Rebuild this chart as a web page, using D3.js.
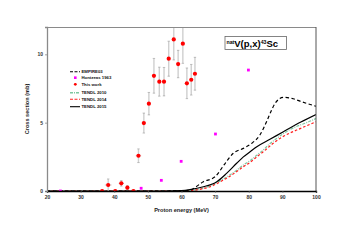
<!DOCTYPE html>
<html><head><meta charset="utf-8">
<script src="https://cdn.jsdelivr.net/npm/d3@7"></script>
<style>body{margin:0;background:#fff}svg{display:block}text{font-family:"Liberation Sans",Arial,sans-serif;font-weight:bold}</style>
</head><body><div id="c"></div>
<script>
// This work (energy MeV, cross section mb, y error, x error)
const thisE   = [36.4,38.2,40.3,42.1,43.9,45.7,47.2,48.8,50.3,51.8,53.4,54.8,56.2,57.7,59.0,60.4,61.6,62.9,64.0];
const thisS   = [0.0,0.44,0.0,0.56,0.24,0.0,2.58,4.97,6.39,8.43,8.0,8.0,9.68,11.09,9.29,10.78,7.88,8.14,8.58];
const thisErr = [0.05,0.44,0.05,0.2,0.15,0.05,0.5,0.73,0.82,1.27,1.06,1.04,1.28,1.5,1.0,1.44,1.12,1.12,1.2];
const thisXErr= [0.7,1.0,0.7,0.8,0.7,0.6,0.8,0.6,0.5,0.4,0.4,0.4,0.4,0.4,0.4,0.4,0.4,0.4,0.4];
// Hontzeas 1963
const hontE = [24.0,48.0,54.0,59.9,70.1,79.9];
const hontS = [0.0,0.2,0.78,2.17,4.17,8.85];
// EMPIRE03
const empE = [20,40,55,60,62.5,66.5,70,73,75.4,78.4,80.9,83.3,85.3,86.8,87.8,90.3,92.8,95.7,100];
const empS = [0,0,0,0.02,0.07,0.68,1.05,2.03,2.76,3.12,3.49,4.1,5.07,5.93,6.4,6.85,6.78,6.53,6.2];
// TENDL 2010
const t10E = [20,40,55,60,62.5,66,68.5,71,73.4,76,78.4,80.4,82.4,84.3,86,88.3,90.3,92.3,95,97.2,100];
const t10S = [0,0,0,0,0.02,0.18,0.38,0.68,1.02,1.45,1.9,2.22,2.62,3.0,3.4,3.85,4.2,4.5,4.8,5.0,5.3];
// TENDL 2014
const t14E = [20,40,55,60,62.5,66,68.5,71,73.4,76,78.4,80.4,82.4,84.3,87.3,89.3,92.3,94.3,97,100];
const t14S = [0,0,0,0,0.02,0.15,0.31,0.6,0.93,1.35,1.78,2.1,2.5,2.87,3.5,3.85,4.25,4.46,4.75,5.07];
// TENDL 2015
const t15E = [20,40,55,60,62.5,66.5,70.5,73.4,76.4,78.4,80.4,82.4,86.3,90.3,95.5,100];
const t15S = [0,0,0,0.03,0.1,0.31,0.68,1.29,2.03,2.5,2.87,3.24,3.78,4.34,5.05,5.6];
const xTicks = [20,30,40,50,60,70,80,90,100];
const yTicks = [0,5,10];
const legendLabels = ["EMPIRE03","Hontzeas 1963","This work","TENDL 2010","TENDL 2014","TENDL 2015"];

const W=351,H=248;
const svg=d3.select("#c").append("svg").attr("width",W).attr("height",H);
svg.append("rect").attr("width",W).attr("height",H).attr("fill","#fff");
const x=d3.scaleLinear().domain([20,100]).range([47,316]);
const y=d3.scaleLinear().domain([0,12]).range([191,27]);

svg.append("clipPath").attr("id","clp").append("rect").attr("x",47).attr("y",27).attr("width",269).attr("height",164);
const g=svg.append("g").attr("clip-path","url(#clp)");

const line=d3.line().x(d=>x(d[0])).y(d=>y(d[1])).curve(d3.curveMonotoneX);
function drawLine(E,S,color,dash,width){
  g.append("path").datum(E.map((e,i)=>[e,S[i]])).attr("d",line).attr("fill","none")
   .attr("stroke",color).attr("stroke-width",width).attr("stroke-dasharray",dash);
}
drawLine(t10E,t10S,"#7ec8a0","3,1.2,1,1.2",1.2);
drawLine(t14E,t14S,"#ff2020","2.5,2",1.2);
drawLine(t15E,t15S,"#000","none",1.2);
drawLine(empE,empS,"#000","3.5,2.5",1.2);

g.selectAll(".h").data(hontE.map((e,i)=>[e,hontS[i]])).enter().append("rect")
 .attr("x",d=>x(d[0])-1.4).attr("y",d=>y(d[1])-1.4).attr("width",2.8).attr("height",2.8).attr("fill","#ff00ff");

const pts=thisE.map((e,i)=>({e,s:thisS[i],err:thisErr[i],xe:thisXErr[i]}));
pts.forEach(p=>{
  const yt=y(p.s+p.err), yb=y(p.s-p.err), cx=x(p.e);
  g.append("line").attr("x1",cx).attr("x2",cx).attr("y1",yt).attr("y2",yb).attr("stroke","#cfcfcf").attr("stroke-width",1.4);
  g.append("line").attr("x1",cx-1.2).attr("x2",cx+1.2).attr("y1",yt).attr("y2",yt).attr("stroke","#999").attr("stroke-width",0.6);
  g.append("line").attr("x1",cx-1.2).attr("x2",cx+1.2).attr("y1",yb).attr("y2",yb).attr("stroke","#999").attr("stroke-width",0.6);
  g.append("line").attr("x1",x(p.e-p.xe)).attr("x2",x(p.e+p.xe)).attr("y1",y(p.s)).attr("y2",y(p.s)).attr("stroke","#bbb").attr("stroke-width",0.8);
});
g.selectAll(".p").data(pts).enter().append("circle").attr("cx",d=>x(d.e)).attr("cy",d=>y(d.s)).attr("r",2.1).attr("fill","#ff0000");

svg.append("line").attr("x1",47).attr("x2",316).attr("y1",27.5).attr("y2",27.5).attr("stroke","#8a8a8a").attr("stroke-width",1.2);
svg.append("line").attr("x1",316).attr("x2",316).attr("y1",27).attr("y2",191).attr("stroke","#555").attr("stroke-width",1);
const xa=svg.append("g").attr("transform","translate(0,191)").call(d3.axisBottom(x).tickValues(xTicks).tickSize(2).tickPadding(2));
xa.select(".domain").attr("stroke","#000").attr("stroke-width",1.3);
xa.selectAll(".tick line").attr("stroke","#666").attr("stroke-width",0.6);
xa.selectAll("text").attr("font-size",5).attr("fill","#333");
const ya=svg.append("g").attr("transform","translate(47,0)").call(d3.axisLeft(y).tickValues(yTicks).tickSize(2).tickPadding(2));
ya.select(".domain").attr("stroke","#8a8a8a").attr("stroke-width",1.3);
ya.selectAll(".tick line").attr("stroke","#666").attr("stroke-width",0.6);
ya.selectAll("text").attr("font-size",5).attr("fill","#333");

svg.append("text").attr("x",x(60)).attr("y",211.5).attr("text-anchor","middle").attr("font-size",5.6).attr("fill","#222").text("Proton energy (MeV)");
svg.append("text").attr("transform","translate(28.5,"+y(6)+") rotate(-90)").attr("text-anchor","middle").attr("font-size",5.6).attr("fill","#222").text("Cross section (mb)");

const tb=svg.append("g");
tb.append("rect").attr("x",225).attr("y",36.5).attr("width",61.5).attr("height",13).attr("fill","#fff").attr("stroke","#666").attr("stroke-width",0.8);
const tt=tb.append("text").attr("x",226.5).attr("y",46.8).attr("fill","#000");
tt.append("tspan").attr("font-size",5.2).attr("dy",-3.3).text("nat");
tt.append("tspan").attr("font-size",9.5).attr("dy",3.3).text("V(p,x)");
tt.append("tspan").attr("font-size",5.2).attr("dy",-3.3).text("43");
tt.append("tspan").attr("font-size",9.5).attr("dy",3.3).text("Sc");

const ly=[71.7,77.7,84.3,92.7,99.3,106.7];
const lg=svg.append("g");
const lineStyles=[["#000","3,1.5",1.1],null,null,["#7ec8a0","3,1,1,1",1.6],["#ff2020","3,1.5",1.1],["#000","none",1.1]];
legendLabels.forEach((lab,i)=>{
  if(lineStyles[i]){
    const s=lineStyles[i];
    lg.append("line").attr("x1",70).attr("x2",80).attr("y1",ly[i]).attr("y2",ly[i]).attr("stroke",s[0]).attr("stroke-dasharray",s[1]).attr("stroke-width",s[2]);
  } else if(i===1){
    lg.append("rect").attr("x",74).attr("y",ly[i]-1.3).attr("width",2.6).attr("height",2.6).attr("fill","#ff00ff");
  } else {
    lg.append("circle").attr("cx",75.3).attr("cy",ly[i]).attr("r",1.4).attr("fill","#ff0000");
  }
  lg.append("text").attr("x",81.5).attr("y",ly[i]+1.6).attr("font-size",4.3).attr("font-weight","normal").attr("fill","#111").text(lab);
});
</script></body></html>
